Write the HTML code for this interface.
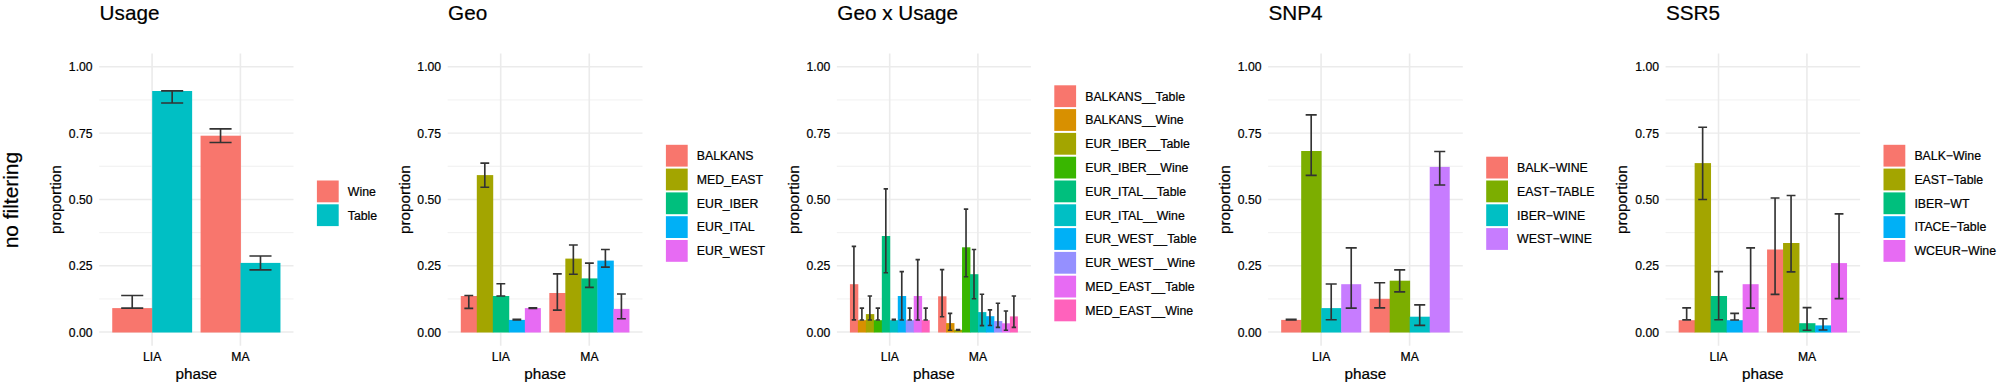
<!DOCTYPE html>
<html lang="en"><head><meta charset="utf-8"><title>no filtering</title>
<style>html,body{margin:0;padding:0;background:#fff;}body{width:1998px;height:382px;overflow:hidden;}svg{display:block;}text{stroke:#000;stroke-width:0.22px;}</style>
</head><body>
<svg width="1998" height="382" viewBox="0 0 1998 382" font-family="'Liberation Sans', Arial, Helvetica, sans-serif" fill="#000">
<rect width="1998" height="382" fill="#fff"/>
<text transform="translate(18.2,200.1) rotate(-90)" text-anchor="middle" font-size="20.9">no filtering</text>
<g>
<g stroke="#EBEBEB" fill="none"><path d="M99.2 298.94H293.5" stroke-width="0.74"/><path d="M99.2 232.61H293.5" stroke-width="0.74"/><path d="M99.2 166.29H293.5" stroke-width="0.74"/><path d="M99.2 99.96H293.5" stroke-width="0.74"/><path d="M99.2 332.10H293.5" stroke-width="1.48"/><path d="M99.2 265.78H293.5" stroke-width="1.48"/><path d="M99.2 199.45H293.5" stroke-width="1.48"/><path d="M99.2 133.12H293.5" stroke-width="1.48"/><path d="M99.2 66.80H293.5" stroke-width="1.48"/><path d="M152.07 53.4V345.8" stroke-width="1.6"/><path d="M240.39 53.4V345.8" stroke-width="1.6"/></g>
<g><rect x="112.24" y="308.10" width="40.35" height="24.40" fill="#F8766D"/><rect x="152.19" y="91.00" width="39.95" height="241.50" fill="#00BFC4"/><rect x="200.56" y="135.70" width="40.35" height="196.80" fill="#F8766D"/><rect x="240.51" y="262.90" width="39.95" height="69.60" fill="#00BFC4"/></g>
<g stroke="#333333" stroke-width="1.65" fill="none"><path d="M121.18 295.50H143.26M132.22 295.50V308.10M121.18 308.10H143.26"/><path d="M161.12 90.90H183.20M172.16 90.90V103.00M161.12 103.00H183.20"/><path d="M209.50 128.90H231.58M220.54 128.90V142.50M209.50 142.50H231.58"/><path d="M249.44 256.00H271.52M260.48 256.00V269.90M249.44 269.90H271.52"/></g>
<g font-size="12.2"><text x="92.6" y="336.5" text-anchor="end">0.00</text><text x="92.6" y="270.2" text-anchor="end">0.25</text><text x="92.6" y="203.9" text-anchor="end">0.50</text><text x="92.6" y="137.5" text-anchor="end">0.75</text><text x="92.6" y="71.2" text-anchor="end">1.00</text><text x="152.2" y="360.8" text-anchor="middle">LIA</text><text x="240.5" y="360.8" text-anchor="middle">MA</text></g>
<text x="196.3" y="378.5" text-anchor="middle" font-size="15.3">phase</text>
<text transform="translate(61.0,199.6) rotate(-90)" text-anchor="middle" font-size="15.3">proportion</text>
<text x="99.6" y="19.7" font-size="20.7">Usage</text>
<g font-size="12.3"><rect x="316.9" y="180.5" width="21.8" height="21.8" fill="#F8766D"/><text x="347.8" y="195.7">Wine</text><rect x="316.9" y="204.3" width="21.8" height="21.8" fill="#00BFC4"/><text x="347.8" y="219.5">Table</text></g>
</g>
<g>
<g stroke="#EBEBEB" fill="none"><path d="M447.7 298.94H642.5" stroke-width="0.74"/><path d="M447.7 232.61H642.5" stroke-width="0.74"/><path d="M447.7 166.29H642.5" stroke-width="0.74"/><path d="M447.7 99.96H642.5" stroke-width="0.74"/><path d="M447.7 332.10H642.5" stroke-width="1.48"/><path d="M447.7 265.78H642.5" stroke-width="1.48"/><path d="M447.7 199.45H642.5" stroke-width="1.48"/><path d="M447.7 133.12H642.5" stroke-width="1.48"/><path d="M447.7 66.80H642.5" stroke-width="1.48"/><path d="M500.71 53.4V345.8" stroke-width="1.6"/><path d="M589.25 53.4V345.8" stroke-width="1.6"/></g>
<g><rect x="460.78" y="296.00" width="16.42" height="36.50" fill="#F8766D"/><rect x="476.80" y="175.10" width="16.42" height="157.40" fill="#A3A500"/><rect x="492.82" y="296.00" width="16.42" height="36.50" fill="#00BF7D"/><rect x="508.84" y="319.90" width="16.42" height="12.60" fill="#00B0F6"/><rect x="524.86" y="308.10" width="16.02" height="24.40" fill="#E76BF3"/><rect x="549.32" y="293.00" width="16.42" height="39.50" fill="#F8766D"/><rect x="565.34" y="258.60" width="16.42" height="73.90" fill="#A3A500"/><rect x="581.36" y="278.40" width="16.42" height="54.10" fill="#00BF7D"/><rect x="597.38" y="260.60" width="16.42" height="71.90" fill="#00B0F6"/><rect x="613.40" y="308.90" width="16.02" height="23.60" fill="#E76BF3"/></g>
<g stroke="#333333" stroke-width="1.65" fill="none"><path d="M464.36 295.50H473.22M468.79 295.50V308.40M464.36 308.40H473.22"/><path d="M480.38 163.10H489.23M484.81 163.10V187.20M480.38 187.20H489.23"/><path d="M496.40 283.70H505.25M500.83 283.70V296.00M496.40 296.00H505.25"/><path d="M512.42 319.30H521.27M512.42 319.90H521.27"/><path d="M528.44 307.70H537.29M528.44 308.30H537.29"/><path d="M552.91 273.90H561.76M557.33 273.90V310.10M552.91 310.10H561.76"/><path d="M568.93 245.00H577.78M573.35 245.00V274.20M568.93 274.20H577.78"/><path d="M584.95 263.10H593.80M589.37 263.10V287.30M584.95 287.30H593.80"/><path d="M600.97 249.50H609.82M605.39 249.50V267.10M600.97 267.10H609.82"/><path d="M616.98 294.00H625.84M621.41 294.00V318.70M616.98 318.70H625.84"/></g>
<g font-size="12.2"><text x="441.1" y="336.5" text-anchor="end">0.00</text><text x="441.1" y="270.2" text-anchor="end">0.25</text><text x="441.1" y="203.9" text-anchor="end">0.50</text><text x="441.1" y="137.5" text-anchor="end">0.75</text><text x="441.1" y="71.2" text-anchor="end">1.00</text><text x="500.8" y="360.8" text-anchor="middle">LIA</text><text x="589.4" y="360.8" text-anchor="middle">MA</text></g>
<text x="545.1" y="378.5" text-anchor="middle" font-size="15.3">phase</text>
<text transform="translate(409.5,199.6) rotate(-90)" text-anchor="middle" font-size="15.3">proportion</text>
<text x="448.1" y="19.7" font-size="20.7">Geo</text>
<g font-size="12.3"><rect x="665.9" y="144.8" width="21.8" height="21.8" fill="#F8766D"/><text x="696.8" y="160.0">BALKANS</text><rect x="665.9" y="168.6" width="21.8" height="21.8" fill="#A3A500"/><text x="696.8" y="183.8">MED_EAST</text><rect x="665.9" y="192.4" width="21.8" height="21.8" fill="#00BF7D"/><text x="696.8" y="207.6">EUR_IBER</text><rect x="665.9" y="216.2" width="21.8" height="21.8" fill="#00B0F6"/><text x="696.8" y="231.4">EUR_ITAL</text><rect x="665.9" y="240.0" width="21.8" height="21.8" fill="#E76BF3"/><text x="696.8" y="255.2">EUR_WEST</text></g>
</g>
<g>
<g stroke="#EBEBEB" fill="none"><path d="M836.9 298.94H1030.9" stroke-width="0.74"/><path d="M836.9 232.61H1030.9" stroke-width="0.74"/><path d="M836.9 166.29H1030.9" stroke-width="0.74"/><path d="M836.9 99.96H1030.9" stroke-width="0.74"/><path d="M836.9 332.10H1030.9" stroke-width="1.48"/><path d="M836.9 265.78H1030.9" stroke-width="1.48"/><path d="M836.9 199.45H1030.9" stroke-width="1.48"/><path d="M836.9 133.12H1030.9" stroke-width="1.48"/><path d="M836.9 66.80H1030.9" stroke-width="1.48"/><path d="M889.69 53.4V345.8" stroke-width="1.6"/><path d="M977.87 53.4V345.8" stroke-width="1.6"/></g>
<g><rect x="849.92" y="284.20" width="8.38" height="48.30" fill="#F8766D"/><rect x="857.90" y="320.20" width="8.38" height="12.30" fill="#D89000"/><rect x="865.88" y="314.10" width="8.38" height="18.40" fill="#A3A500"/><rect x="873.86" y="320.20" width="8.38" height="12.30" fill="#39B600"/><rect x="881.83" y="236.00" width="8.38" height="96.50" fill="#00BF7D"/><rect x="889.81" y="320.20" width="8.38" height="12.30" fill="#00BFC4"/><rect x="897.79" y="296.00" width="8.38" height="36.50" fill="#00B0F6"/><rect x="905.76" y="320.20" width="8.38" height="12.30" fill="#9590FF"/><rect x="913.74" y="296.00" width="8.38" height="36.50" fill="#E76BF3"/><rect x="921.72" y="320.20" width="7.98" height="12.30" fill="#FF62BC"/><rect x="938.11" y="296.30" width="8.38" height="36.20" fill="#F8766D"/><rect x="946.08" y="323.10" width="8.38" height="9.40" fill="#D89000"/><rect x="954.06" y="329.80" width="8.38" height="2.70" fill="#A3A500"/><rect x="962.04" y="247.30" width="8.38" height="85.20" fill="#39B600"/><rect x="970.01" y="274.20" width="8.38" height="58.30" fill="#00BF7D"/><rect x="977.99" y="312.10" width="8.38" height="20.40" fill="#00BFC4"/><rect x="985.97" y="316.20" width="8.38" height="16.30" fill="#00B0F6"/><rect x="993.94" y="321.10" width="8.38" height="11.40" fill="#9590FF"/><rect x="1001.92" y="323.30" width="8.38" height="9.20" fill="#E76BF3"/><rect x="1009.90" y="316.40" width="7.98" height="16.10" fill="#FF62BC"/></g>
<g stroke="#333333" stroke-width="1.65" fill="none"><path d="M851.71 246.30H856.12M853.91 246.30V319.90M851.71 319.90H856.12"/><path d="M859.69 308.10H864.09M861.89 308.10V320.00M859.69 320.00H864.09"/><path d="M867.66 296.00H872.07M869.87 296.00V320.00M867.66 320.00H872.07"/><path d="M875.64 308.10H880.05M877.84 308.10V320.00M875.64 320.00H880.05"/><path d="M883.62 188.80H888.03M885.82 188.80V272.70M883.62 272.70H888.03"/><path d="M891.59 319.30H896.00M891.59 319.90H896.00"/><path d="M899.57 271.60H903.98M901.77 271.60V320.00M899.57 320.00H903.98"/><path d="M907.55 308.10H911.96M909.75 308.10V320.00M907.55 320.00H911.96"/><path d="M915.52 259.60H919.93M917.73 259.60V320.00M915.52 320.00H919.93"/><path d="M923.50 308.10H927.91M925.71 308.10V320.00M923.50 320.00H927.91"/><path d="M939.89 269.60H944.30M942.09 269.60V316.70M939.89 316.70H944.30"/><path d="M947.87 313.40H952.28M950.07 313.40V330.20M947.87 330.20H952.28"/><path d="M955.84 329.50H960.25M955.84 330.10H960.25"/><path d="M963.82 209.10H968.23M966.03 209.10V276.70M963.82 276.70H968.23"/><path d="M971.80 249.50H976.21M974.00 249.50V298.70M971.80 298.70H976.21"/><path d="M979.77 294.20H984.18M981.98 294.20V325.60M979.77 325.60H984.18"/><path d="M987.75 309.90H992.16M989.96 309.90V325.50M987.75 325.50H992.16"/><path d="M995.73 303.20H1000.14M997.93 303.20V327.40M995.73 327.40H1000.14"/><path d="M1003.71 311.00H1008.11M1005.91 311.00V330.20M1003.71 330.20H1008.11"/><path d="M1011.68 296.00H1016.09M1013.89 296.00V327.40M1011.68 327.40H1016.09"/></g>
<g font-size="12.2"><text x="830.3" y="336.5" text-anchor="end">0.00</text><text x="830.3" y="270.2" text-anchor="end">0.25</text><text x="830.3" y="203.9" text-anchor="end">0.50</text><text x="830.3" y="137.5" text-anchor="end">0.75</text><text x="830.3" y="71.2" text-anchor="end">1.00</text><text x="889.8" y="360.8" text-anchor="middle">LIA</text><text x="978.0" y="360.8" text-anchor="middle">MA</text></g>
<text x="933.9" y="378.5" text-anchor="middle" font-size="15.3">phase</text>
<text transform="translate(798.7,199.6) rotate(-90)" text-anchor="middle" font-size="15.3">proportion</text>
<text x="837.3" y="19.7" font-size="20.7">Geo x Usage</text>
<g font-size="12.3"><rect x="1054.3" y="85.3" width="21.8" height="21.8" fill="#F8766D"/><text x="1085.2" y="100.5">BALKANS__Table</text><rect x="1054.3" y="109.1" width="21.8" height="21.8" fill="#D89000"/><text x="1085.2" y="124.3">BALKANS__Wine</text><rect x="1054.3" y="132.9" width="21.8" height="21.8" fill="#A3A500"/><text x="1085.2" y="148.1">EUR_IBER__Table</text><rect x="1054.3" y="156.7" width="21.8" height="21.8" fill="#39B600"/><text x="1085.2" y="171.9">EUR_IBER__Wine</text><rect x="1054.3" y="180.5" width="21.8" height="21.8" fill="#00BF7D"/><text x="1085.2" y="195.7">EUR_ITAL__Table</text><rect x="1054.3" y="204.3" width="21.8" height="21.8" fill="#00BFC4"/><text x="1085.2" y="219.5">EUR_ITAL__Wine</text><rect x="1054.3" y="228.1" width="21.8" height="21.8" fill="#00B0F6"/><text x="1085.2" y="243.3">EUR_WEST__Table</text><rect x="1054.3" y="251.9" width="21.8" height="21.8" fill="#9590FF"/><text x="1085.2" y="267.1">EUR_WEST__Wine</text><rect x="1054.3" y="275.7" width="21.8" height="21.8" fill="#E76BF3"/><text x="1085.2" y="290.9">MED_EAST__Table</text><rect x="1054.3" y="299.5" width="21.8" height="21.8" fill="#FF62BC"/><text x="1085.2" y="314.7">MED_EAST__Wine</text></g>
</g>
<g>
<g stroke="#EBEBEB" fill="none"><path d="M1268.1 298.94H1462.8" stroke-width="0.74"/><path d="M1268.1 232.61H1462.8" stroke-width="0.74"/><path d="M1268.1 166.29H1462.8" stroke-width="0.74"/><path d="M1268.1 99.96H1462.8" stroke-width="0.74"/><path d="M1268.1 332.10H1462.8" stroke-width="1.48"/><path d="M1268.1 265.78H1462.8" stroke-width="1.48"/><path d="M1268.1 199.45H1462.8" stroke-width="1.48"/><path d="M1268.1 133.12H1462.8" stroke-width="1.48"/><path d="M1268.1 66.80H1462.8" stroke-width="1.48"/><path d="M1321.08 53.4V345.8" stroke-width="1.6"/><path d="M1409.58 53.4V345.8" stroke-width="1.6"/></g>
<g><rect x="1281.17" y="319.90" width="20.41" height="12.60" fill="#F8766D"/><rect x="1301.19" y="151.00" width="20.41" height="181.50" fill="#7CAE00"/><rect x="1321.20" y="308.10" width="20.41" height="24.40" fill="#00BFC4"/><rect x="1341.21" y="284.20" width="20.01" height="48.30" fill="#C77CFF"/><rect x="1369.67" y="298.80" width="20.41" height="33.70" fill="#F8766D"/><rect x="1389.69" y="280.70" width="20.41" height="51.80" fill="#7CAE00"/><rect x="1409.70" y="316.70" width="20.41" height="15.80" fill="#00BFC4"/><rect x="1429.71" y="166.90" width="20.01" height="165.60" fill="#C77CFF"/></g>
<g stroke="#333333" stroke-width="1.65" fill="none"><path d="M1285.65 319.30H1296.71M1285.65 319.90H1296.71"/><path d="M1305.66 114.80H1316.72M1311.19 114.80V175.40M1305.66 175.40H1316.72"/><path d="M1325.68 284.00H1336.74M1331.21 284.00V319.70M1325.68 319.70H1336.74"/><path d="M1345.69 247.80H1356.75M1351.22 247.80V308.10M1345.69 308.10H1356.75"/><path d="M1374.15 282.70H1385.21M1379.68 282.70V307.90M1374.15 307.90H1385.21"/><path d="M1394.16 269.90H1405.22M1399.69 269.90V291.80M1394.16 291.80H1405.22"/><path d="M1414.18 304.80H1425.24M1419.71 304.80V325.40M1414.18 325.40H1425.24"/><path d="M1434.19 151.50H1445.25M1439.72 151.50V185.00M1434.19 185.00H1445.25"/></g>
<g font-size="12.2"><text x="1261.5" y="336.5" text-anchor="end">0.00</text><text x="1261.5" y="270.2" text-anchor="end">0.25</text><text x="1261.5" y="203.9" text-anchor="end">0.50</text><text x="1261.5" y="137.5" text-anchor="end">0.75</text><text x="1261.5" y="71.2" text-anchor="end">1.00</text><text x="1321.2" y="360.8" text-anchor="middle">LIA</text><text x="1409.7" y="360.8" text-anchor="middle">MA</text></g>
<text x="1365.4" y="378.5" text-anchor="middle" font-size="15.3">phase</text>
<text transform="translate(1229.9,199.6) rotate(-90)" text-anchor="middle" font-size="15.3">proportion</text>
<text x="1268.5" y="19.7" font-size="20.7">SNP4</text>
<g font-size="12.3"><rect x="1486.2" y="156.7" width="21.8" height="21.8" fill="#F8766D"/><text x="1517.1" y="171.9">BALK−WINE</text><rect x="1486.2" y="180.5" width="21.8" height="21.8" fill="#7CAE00"/><text x="1517.1" y="195.7">EAST−TABLE</text><rect x="1486.2" y="204.3" width="21.8" height="21.8" fill="#00BFC4"/><text x="1517.1" y="219.5">IBER−WINE</text><rect x="1486.2" y="228.1" width="21.8" height="21.8" fill="#C77CFF"/><text x="1517.1" y="243.3">WEST−WINE</text></g>
</g>
<g>
<g stroke="#EBEBEB" fill="none"><path d="M1665.6 298.94H1860.1" stroke-width="0.74"/><path d="M1665.6 232.61H1860.1" stroke-width="0.74"/><path d="M1665.6 166.29H1860.1" stroke-width="0.74"/><path d="M1665.6 99.96H1860.1" stroke-width="0.74"/><path d="M1665.6 332.10H1860.1" stroke-width="1.48"/><path d="M1665.6 265.78H1860.1" stroke-width="1.48"/><path d="M1665.6 199.45H1860.1" stroke-width="1.48"/><path d="M1665.6 133.12H1860.1" stroke-width="1.48"/><path d="M1665.6 66.80H1860.1" stroke-width="1.48"/><path d="M1718.53 53.4V345.8" stroke-width="1.6"/><path d="M1806.93 53.4V345.8" stroke-width="1.6"/></g>
<g><rect x="1678.66" y="320.20" width="16.39" height="12.30" fill="#F8766D"/><rect x="1694.65" y="163.10" width="16.39" height="169.40" fill="#A3A500"/><rect x="1710.65" y="296.00" width="16.39" height="36.50" fill="#00BF7D"/><rect x="1726.64" y="320.20" width="16.39" height="12.30" fill="#00B0F6"/><rect x="1742.64" y="284.20" width="15.99" height="48.30" fill="#E76BF3"/><rect x="1767.07" y="249.50" width="16.39" height="83.00" fill="#F8766D"/><rect x="1783.06" y="243.00" width="16.39" height="89.50" fill="#A3A500"/><rect x="1799.06" y="323.20" width="16.39" height="9.30" fill="#00BF7D"/><rect x="1815.05" y="325.40" width="16.39" height="7.10" fill="#00B0F6"/><rect x="1831.05" y="263.10" width="15.99" height="69.40" fill="#E76BF3"/></g>
<g stroke="#333333" stroke-width="1.65" fill="none"><path d="M1682.24 307.90H1691.08M1686.66 307.90V319.90M1682.24 319.90H1691.08"/><path d="M1698.23 127.20H1707.07M1702.65 127.20V199.50M1698.23 199.50H1707.07"/><path d="M1714.22 271.60H1723.07M1718.65 271.60V319.70M1714.22 319.70H1723.07"/><path d="M1730.22 313.40H1739.06M1734.64 313.40V320.00M1730.22 320.00H1739.06"/><path d="M1746.21 247.80H1755.06M1750.64 247.80V308.10M1746.21 308.10H1755.06"/><path d="M1770.64 198.00H1779.49M1775.06 198.00V294.30M1770.64 294.30H1779.49"/><path d="M1786.64 195.50H1795.48M1791.06 195.50V271.90M1786.64 271.90H1795.48"/><path d="M1802.63 307.60H1811.47M1807.05 307.60V330.20M1802.63 330.20H1811.47"/><path d="M1818.63 318.70H1827.47M1823.05 318.70V330.00M1818.63 330.00H1827.47"/><path d="M1834.62 213.90H1843.46M1839.04 213.90V298.60M1834.62 298.60H1843.46"/></g>
<g font-size="12.2"><text x="1659.0" y="336.5" text-anchor="end">0.00</text><text x="1659.0" y="270.2" text-anchor="end">0.25</text><text x="1659.0" y="203.9" text-anchor="end">0.50</text><text x="1659.0" y="137.5" text-anchor="end">0.75</text><text x="1659.0" y="71.2" text-anchor="end">1.00</text><text x="1718.6" y="360.8" text-anchor="middle">LIA</text><text x="1807.1" y="360.8" text-anchor="middle">MA</text></g>
<text x="1762.8" y="378.5" text-anchor="middle" font-size="15.3">phase</text>
<text transform="translate(1627.4,199.6) rotate(-90)" text-anchor="middle" font-size="15.3">proportion</text>
<text x="1666.0" y="19.7" font-size="20.7">SSR5</text>
<g font-size="12.3"><rect x="1883.5" y="144.8" width="21.8" height="21.8" fill="#F8766D"/><text x="1914.4" y="160.0">BALK−Wine</text><rect x="1883.5" y="168.6" width="21.8" height="21.8" fill="#A3A500"/><text x="1914.4" y="183.8">EAST−Table</text><rect x="1883.5" y="192.4" width="21.8" height="21.8" fill="#00BF7D"/><text x="1914.4" y="207.6">IBER−WT</text><rect x="1883.5" y="216.2" width="21.8" height="21.8" fill="#00B0F6"/><text x="1914.4" y="231.4">ITACE−Table</text><rect x="1883.5" y="240.0" width="21.8" height="21.8" fill="#E76BF3"/><text x="1914.4" y="255.2">WCEUR−Wine</text></g>
</g>
</svg>
</body></html>
